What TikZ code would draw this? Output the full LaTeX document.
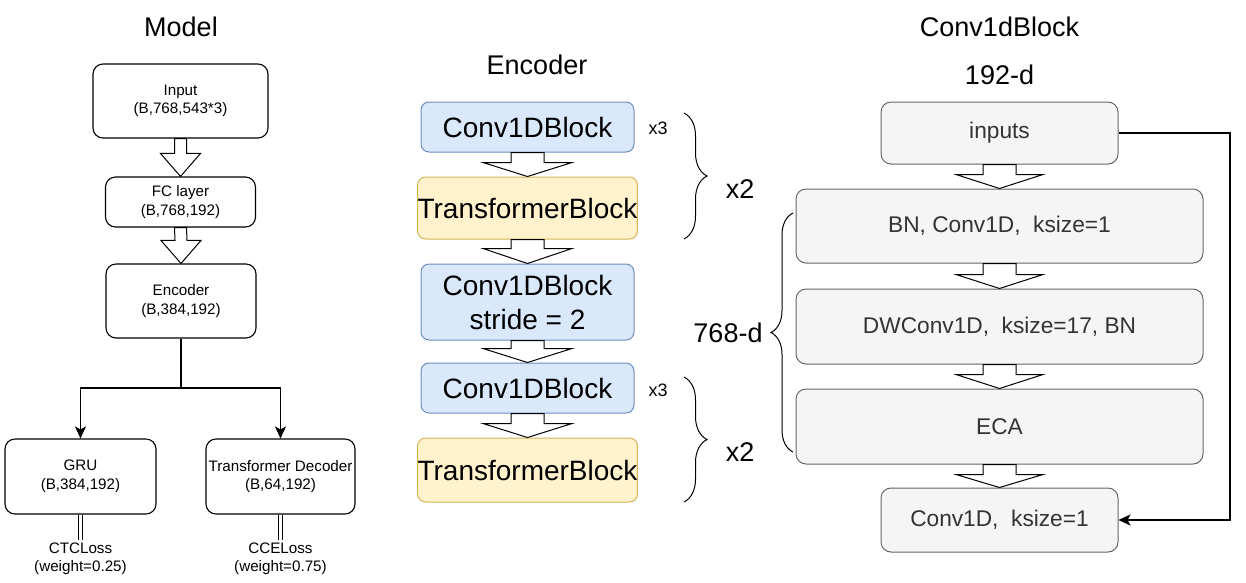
\documentclass[tikz,border=0pt]{standalone}
\usepackage{fontspec}
\setmainfont{Liberation Sans}
\usetikzlibrary{arrows.meta,calc,decorations.pathreplacing}
\definecolor{bluefill}{HTML}{DAE8FC}
\definecolor{bluedraw}{HTML}{6C8EBF}
\definecolor{yelfill}{HTML}{FFF2CC}
\definecolor{yeldraw}{HTML}{D6B656}
\definecolor{grayfill}{HTML}{F5F5F5}
\definecolor{graydraw}{HTML}{666666}
\definecolor{graytext}{HTML}{333333}
\tikzset{
 modelbox/.style={draw=black, line width=1.1pt, rounded corners=10pt, fill=white, align=center, font=\fontsize{15.2}{18.5}\selectfont, inner sep=0pt},
 convbox/.style={draw=bluedraw, fill=bluefill, line width=1pt, rounded corners=8pt, align=center, font=\fontsize{28}{34}\selectfont, inner sep=0pt, minimum width=213pt},
 transbox/.style={draw=yeldraw, fill=yelfill, line width=1pt, rounded corners=8pt, align=center, font=\fontsize{28}{34}\selectfont, inner sep=0pt, minimum width=219pt},
 rightbox/.style={draw=graydraw, fill=grayfill, text=graytext, line width=1pt, rounded corners=10pt, font=\fontsize{22.7}{27}\selectfont, inner sep=0pt},
 titletext/.style={font=\fontsize{27}{32}\selectfont, inner sep=0pt},
 smalltext/.style={font=\fontsize{15.2}{18.5}\selectfont, inner sep=0pt, align=center},
 blockar/.style={draw=black, fill=white, line width=1pt, line join=miter},
 conn/.style={draw=black, line width=1.1pt},
 arrowtip/.style={-{Stealth[length=12pt,width=11pt,inset=3pt]}},
 linkline/.style={draw=black, line width=1pt},
 brc/.style={draw=black, line width=1pt, decorate, decoration={brace, amplitude=#1}},
}
% from, to, shaft half width, head half width, head length
\newcommand{\blockarrow}[5]{%
  \draw[blockar] ($(#1.south)+(-#3,0)$) -- ($(#2.north)+(-#3,-#5)$) -- ($(#2.north)+(-#4,-#5)$) -- (#2.north) -- ($(#2.north)+(#4,-#5)$) -- ($(#2.north)+(#3,-#5)$) -- ($(#1.south)+(#3,0)$) -- cycle;
}
% double link line between two nodes
\newcommand{\linkpair}[2]{%
  \draw[linkline] ($(#1.south)+(-1.6,0)$) -- ($(#2.north)+(-1.6,-3)$);
  \draw[linkline] ($(#1.south)+(1.6,0)$) -- ($(#2.north)+(1.6,-3)$);
}
\begin{document}
\begin{tikzpicture}[x=1pt,y=-1pt]
\fill[white] (0,0) rectangle (1246,582);
\useasboundingbox (0,0) rectangle (1246,582);

% ---------------- Model ----------------
\node[titletext] (tmodel) at (181,27) {Model};
\node[modelbox, minimum width=175pt, minimum height=74pt] (input) at (180.5,101) {Input\\(B,768,543*3)};
\node[modelbox, minimum width=150pt, minimum height=50pt] (fc) at (180.5,202) {FC layer\\(B,768,192)};
\node[modelbox, minimum width=150pt, minimum height=74pt] (enc) at (181,301) {Encoder\\(B,384,192)};
\node[modelbox, minimum width=151pt, minimum height=75pt] (gru) at (80.5,476.5) {GRU\\(B,384,192)};
\node[modelbox, minimum width=149pt, minimum height=75pt] (td) at (280.5,476.5) {Transformer Decoder\\(B,64,192)};
\node[smalltext, anchor=north] (ctc) at (80.5,542.5) {CTCLoss\\(weight=0.25)};
\node[smalltext, anchor=north] (cce) at (280.5,542.5) {CCELoss\\(weight=0.75)};

\blockarrow{input}{fc}{6}{20}{23}
\blockarrow{fc}{enc}{6}{20}{23}

\coordinate (split) at (181,388);
\draw[conn] (enc.south) -- (split);
\draw[conn, arrowtip] (split) -| (gru.north);
\draw[conn, arrowtip] (split) -| (td.north);
\linkpair{gru}{ctc}
\linkpair{td}{cce}

% ---------------- Encoder ----------------
\node[titletext] (tenc) at (537,65) {Encoder};
\node[convbox, minimum height=50pt] (c1) at (527.5,127) {Conv1DBlock};
\node[transbox, minimum height=62pt] (t1) at (527.5,208) {TransformerBlock};
\node[convbox, minimum height=76pt] (c2) at (527.5,302) {Conv1DBlock\\stride = 2};
\node[convbox, minimum height=50pt] (c3) at (527.5,388) {Conv1DBlock};
\node[transbox, minimum height=64pt] (t2) at (527.5,470) {TransformerBlock};

\blockarrow{c1}{t1}{16.5}{44.5}{14}
\blockarrow{t1}{c2}{16.5}{44.5}{15}
\blockarrow{c2}{c3}{16.5}{44.5}{14}
\blockarrow{c3}{t2}{16.5}{44.5}{14}

\node[smalltext, font=\fontsize{18}{21}\selectfont] (x3a) at (658,128) {x3};
\node[smalltext, font=\fontsize{18}{21}\selectfont] (x3b) at (658,390) {x3};

\coordinate (b1s) at (684,113);
\coordinate (b1e) at (684,239);
\coordinate (b2s) at (684,377);
\coordinate (b2e) at (684,502);
\draw[brc=23pt] (b1s) -- (b1e);
\draw[brc=23pt] (b2s) -- (b2e);
\node[titletext] (x2a) at (740,189) {x2};
\node[titletext] (x2b) at (740,452) {x2};

% ---------------- Conv1dBlock ----------------
\node[titletext] (tconv) at (999.5,27) {Conv1dBlock};
\node[titletext] (tdim) at (999.5,75) {192-d};
\node[rightbox, minimum width=237pt, minimum height=62pt] (inp) at (999.5,133) {inputs};
\node[rightbox, minimum width=407pt, minimum height=74pt] (bn) at (999.5,226) {BN, Conv1D,\ \ ksize=1};
\node[rightbox, minimum width=407pt, minimum height=75pt] (dw) at (999.5,326.5) {DWConv1D,\ \ ksize=17, BN};
\node[rightbox, minimum width=407pt, minimum height=75pt] (eca) at (999.5,426.5) {ECA};
\node[rightbox, minimum width=237pt, minimum height=64pt] (cv) at (999.5,520) {Conv1D,\ \ ksize=1};

\blockarrow{inp}{bn}{16.5}{43.5}{14}
\blockarrow{bn}{dw}{16.5}{43.5}{14}
\blockarrow{dw}{eca}{16.5}{43.5}{14}
\blockarrow{eca}{cv}{16.5}{43.5}{13}

\coordinate (r1) at (1230,133);
\coordinate (r2) at (1230,520);
\draw[conn, arrowtip] (inp.east) -- (r1) -- (r2) -- (cv.east);

\coordinate (b3s) at (793,452);
\coordinate (b3e) at (793,213);
\draw[brc=22pt] (b3s) -- (b3e);
\node[titletext] (d768) at (728,333) {768-d};
\end{tikzpicture}
\end{document}
